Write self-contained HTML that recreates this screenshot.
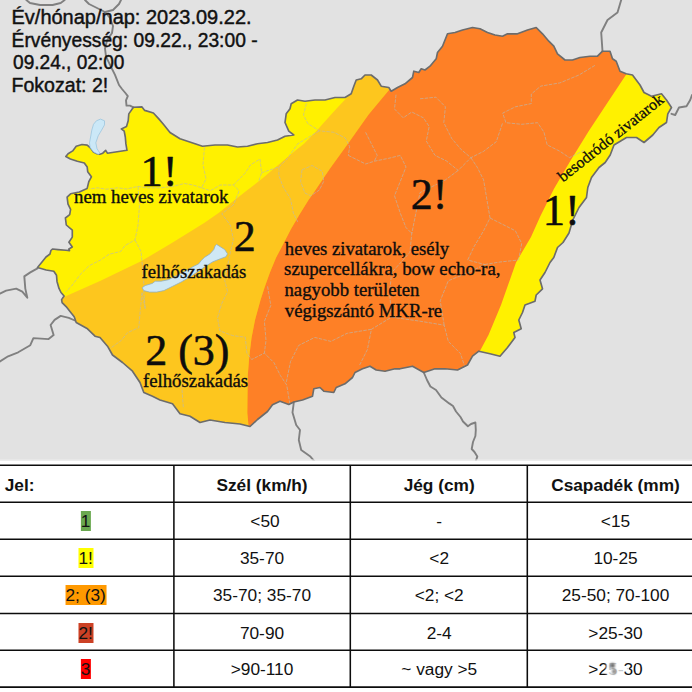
<!DOCTYPE html>
<html><head><meta charset="utf-8"><title>Riasztás</title>
<style>
html,body{margin:0;padding:0;background:#fff;}
body{width:692px;height:692px;overflow:hidden;position:relative;font-family:"Liberation Sans",sans-serif;color:#111;}
#map{position:absolute;left:0;top:0;display:block;}
.hl{position:absolute;height:1.3px;left:0;width:692px;background:#1a1a1a;}
.vl{position:absolute;width:1.4px;top:465px;height:223px;background:#1a1a1a;}
.c{position:absolute;font-size:17.3px;line-height:20px;height:20px;white-space:nowrap;transform:translateX(-50%);text-align:center;}
.b{font-weight:bold;}
.c span{display:inline-block;padding:0 0.3px;line-height:20px;}
</style></head><body>
<svg id="map" width="692" height="461" viewBox="0 0 692 461">
<defs><clipPath id="hu"><path d="M133.4 107.3 L142.0 106.9 L144.7 110.4 L153.4 113.0 L158.6 118.6 L163.8 124.7 L170.0 132.5 L180.0 138.8 L195.0 143.8 L202.5 146.2 L215.0 145.0 L227.5 145.0 L237.5 147.0 L247.5 146.2 L257.5 143.8 L267.5 142.5 L277.5 140.0 L285.0 136.2 L293.8 135.0 L288.8 131.2 L285.0 122.5 L286.2 113.8 L290.0 108.8 L291.2 103.8 L297.5 100.0 L305.0 101.2 L315.0 100.0 L325.0 100.0 L335.0 97.5 L345.0 97.5 L351.2 93.8 L353.8 86.2 L356.2 80.0 L361.2 78.8 L365.0 75.0 L371.2 75.0 L377.5 80.0 L381.2 86.2 L388.8 87.5 L391.2 91.2 L397.5 87.5 L405.0 83.8 L412.5 77.5 L413.8 71.2 L418.8 72.5 L421.2 68.8 L425.0 70.0 L430.0 66.2 L436.2 58.8 L437.5 52.5 L442.5 46.2 L445.0 40.0 L447.5 33.8 L455.0 32.5 L462.5 30.0 L472.5 27.5 L480.0 28.8 L487.5 32.5 L495.0 35.0 L502.5 36.2 L507.5 33.8 L517.5 33.8 L527.5 30.0 L536.2 27.5 L542.5 33.8 L548.8 41.2 L553.8 46.2 L557.5 53.8 L565.0 60.0 L572.5 60.0 L580.0 57.5 L590.0 56.2 L597.5 56.2 L602.5 51.2 L610.0 51.2 L612.5 58.8 L616.2 61.2 L620.0 71.2 L626.2 73.8 L632.5 75.0 L640.0 85.0 L644.0 92.5 L651.5 96.2 L661.5 93.8 L666.5 100.0 L671.5 107.5 L667.8 113.8 L666.5 122.5 L659.0 127.5 L652.8 135.0 L644.0 142.5 L636.5 137.5 L626.5 137.5 L614.0 145.0 L610.2 155.0 L605.2 162.5 L599.0 167.5 L591.5 177.5 L587.8 187.5 L586.5 197.5 L579.0 207.5 L572.8 220.0 L569.0 233.0 L563.0 242.5 L557.5 247.5 L553.8 257.5 L550.0 262.5 L545.0 272.5 L540.0 280.0 L542.5 288.8 L536.2 295.0 L535.0 301.2 L525.0 305.0 L522.5 312.5 L518.8 320.0 L521.2 328.8 L513.8 332.5 L515.0 337.5 L507.5 347.5 L500.0 356.2 L490.0 353.8 L478.8 351.2 L472.5 356.2 L467.5 365.0 L457.5 370.0 L445.0 368.8 L435.0 368.8 L423.8 372.5 L412.5 366.2 L400.0 368.8 L395.0 368.8 L385.0 371.2 L376.2 370.0 L370.0 366.2 L362.5 368.8 L355.0 372.5 L352.5 377.5 L345.0 383.8 L336.2 387.5 L333.8 392.5 L323.8 391.2 L320.0 387.5 L313.8 388.8 L312.5 396.2 L302.5 400.0 L293.8 402.0 L288.8 404.5 L280.0 401.2 L272.5 404.8 L267.5 411.5 L257.5 419.5 L250.0 426.5 L240.0 424.0 L225.0 422.5 L210.0 420.0 L200.0 422.5 L190.0 416.2 L180.0 413.8 L172.5 403.8 L160.0 400.0 L152.5 396.2 L143.8 392.5 L140.0 382.5 L132.5 371.2 L122.5 362.5 L112.5 355.0 L107.5 346.2 L100.0 337.5 L95.0 336.2 L87.5 328.8 L76.2 322.5 L74.2 316.8 L70.2 311.7 L66.1 306.6 L62.1 302.6 L61.6 299.6 L64.1 296.0 L61.0 292.5 L59.0 288.4 L57.0 281.4 L56.5 275.3 L53.8 271.2 L46.2 270.0 L37.5 267.5 L42.0 262.0 L46.0 257.0 L50.0 254.0 L50.9 250.5 L52.5 249.0 L58.0 249.6 L66.0 250.3 L69.5 250.6 L68.9 249.0 L72.3 247.0 L68.9 242.3 L72.3 237.1 L72.3 230.2 L66.3 225.0 L65.4 218.0 L69.7 214.6 L70.6 209.4 L68.0 204.2 L67.1 197.2 L70.6 193.8 L79.3 192.0 L87.1 188.6 L88.8 181.6 L91.4 176.8 L87.7 171.7 L87.2 167.1 L84.3 163.0 L77.3 161.3 L70.4 159.0 L65.8 156.6 L68.1 153.8 L72.7 150.9 L76.2 146.2 L82.0 144.5 L87.2 145.1 L90.6 148.0 L93.5 152.0 L97.0 153.8 L99.9 154.3 L102.8 153.2 L105.7 150.3 L107.4 153.2 L115.5 152.0 L127.0 150.3 L125.9 143.9 L125.3 137.0 L124.2 131.2 L121.3 128.9 L126.5 126.6 L128.2 120.8 L128.8 113.9 Z"/></clipPath></defs>
<rect width="692" height="461" fill="#e2e2e2"/>
<g clip-path="url(#hu)">
<rect width="692" height="462" fill="#fff100"/>
<path d="M64.0 297.0 L100.0 280.9 L141.0 261.3 L171.0 243.6 L190.0 231.8 L204.5 222.8 L218.9 212.7 L233.4 200.9 L247.8 189.8 L262.3 178.5 L276.7 166.2 L290.0 155.1 L304.0 143.8 L316.0 131.5 L328.0 118.0 L338.0 107.0 L349.0 95.5 L360.0 60.0 L395.0 60.0 L389.0 90.0 L368.6 114.6 L349.5 141.6 L330.0 168.6 L313.5 193.0 L308.5 200.0 L299.5 214.5 L291.0 228.9 L283.5 243.4 L276.0 257.8 L270.0 272.3 L264.8 286.7 L260.5 300.0 L255.0 320.0 L251.5 338.0 L249.3 356.0 L247.8 375.0 L247.5 394.0 L247.3 413.0 L248.5 426.0 L248.0 470.0 L30.0 470.0 L30.0 320.0 Z" fill="#fdc61e"/>
<path d="M395.0 60.0 L395.0 0.0 L640.0 0.0 L640.0 60.0 L626.2 74.5 L607.3 103.0 L588.8 131.0 L570.3 161.0 L554.0 188.7 L540.2 216.4 L531.0 237.0 L516.0 262.5 L501.0 305.0 L488.5 335.0 L479.8 351.2 L470.0 470.0 L248.0 470.0 L248.5 426.0 L247.3 413.0 L247.5 394.0 L247.8 375.0 L249.3 356.0 L251.5 338.0 L255.0 320.0 L260.5 300.0 L264.8 286.7 L270.0 272.3 L276.0 257.8 L283.5 243.4 L291.0 228.9 L299.5 214.5 L308.5 200.0 L313.5 193.0 L330.0 168.6 L349.5 141.6 L368.6 114.6 L389.0 90.0 Z" fill="#fe8026"/>
<g fill="none" stroke="#b9b9b4" stroke-opacity="0.7" stroke-width="0.9" stroke-dasharray="3.5 1.2" stroke-linejoin="round"><path d="M204.5 147.3 L203.0 164.7 L206.0 179.0 L201.6 187.8 L193.0 185.0 L184.3 183.5 L172.7 186.4 L161.0 187.8 L146.7 187.8 L138.0 186.4 L126.5 189.0 L117.8 187.8 L106.2 189.2 L97.6 187.8 L89.0 189.0"/><path d="M138.0 186.4 L139.5 205.0 L138.0 225.4 L135.0 239.8 L125.0 245.6 L120.7 251.4 L109.0 254.3 L100.5 260.0 L89.0 265.8 L80.2 274.5 L71.6 286.0 L65.8 291.8"/><path d="M201.6 187.8 L210.3 190.7 L220.4 185.0 L233.4 185.0 L239.2 190.7 L233.4 205.0 L221.8 213.8 L230.5 225.4 L233.4 239.8 L230.5 251.4"/><path d="M135.0 240.0 L141.0 251.4 L142.4 265.8 L143.8 283.0 L143.8 291.8 L145.3 309.0 L142.0 292.7"/><path d="M230.5 251.4 L227.6 265.8 L224.7 280.3 L227.6 291.8 L221.8 303.4 L217.5 317.8 L219.9 330.9 L232.6 335.6 L245.3 337.2 L246.9 353.1 L251.7 359.5 L264.4 353.1 L274.0 362.7 L280.3 375.4 L286.7 385.0 L289.9 404.0"/><path d="M233.4 185.0 L245.0 173.3 L250.7 164.7 L260.0 159.0 L261.6 172.7 L258.7 181.4"/><path d="M306.4 103.4 L303.5 115.0 L307.8 123.6 L319.4 130.8 L333.8 132.3 L345.4 138.0 L349.7 146.7 L348.3 155.4"/><path d="M302.0 169.8 L312.1 165.5 L322.3 171.3 L323.7 181.4 L319.4 190.0 L310.7 195.8 L304.9 193.0 L300.6 181.4 L302.0 169.8"/><path d="M319.4 130.8 L297.7 143.8 L287.6 158.3 L278.9 167.0 L270.2 169.8 L261.6 172.7"/><path d="M278.9 167.0 L278.9 175.6 L283.2 187.2 L290.5 198.7 L293.4 213.2 L297.7 221.8"/><path d="M396.0 94.7 L394.5 109.0 L403.2 117.8 L411.8 112.0 L423.4 117.8 L429.2 126.5 L426.3 141.0 L435.0 155.4 L446.5 161.0 L458.2 170.4 L470.9 157.7"/><path d="M348.3 155.4 L365.6 164.0 L374.3 161.2 L388.7 158.3 L400.3 155.4 L406.0 167.0 L400.3 181.4 L394.5 195.8 L400.3 213.2 L406.0 227.6 L411.8 233.4"/><path d="M365.6 132.3 L377.2 155.4 L374.3 161.2"/><path d="M594.9 65.4 L579.0 75.0 L559.9 82.9 L540.8 86.1 L531.3 94.0 L531.3 103.6 L515.4 106.8 L502.7 113.1 L505.9 122.7 L521.7 124.3 L537.6 122.7 L544.0 132.2 L547.2 144.9 L559.9 151.3 L569.4 157.7 L579.0 152.9 L585.3 149.7"/><path d="M420.0 98.8 L435.9 97.2 L445.4 106.8 L443.8 122.7 L451.8 138.6 L461.3 149.7 L470.9 157.7 L483.6 151.3 L496.3 141.7 L502.7 122.7"/><path d="M470.9 157.7 L477.2 167.2 L483.6 179.9 L486.8 199.0 L490.0 218.0 L483.6 230.8 L474.0 246.7 L467.7 260.0"/><path d="M490.0 218.0 L502.7 224.4 L515.4 230.8 L521.7 243.5 L518.6 260.0"/><path d="M458.2 170.4 L445.4 179.9 L432.7 186.3 L420.0 192.6 L411.8 233.4"/><path d="M142.0 292.7 L140.4 308.6 L138.8 327.7 L127.7 332.5 L121.3 340.4 L110.2 348.4"/><path d="M181.7 385.0 L183.3 407.2"/><path d="M267.6 286.4 L270.8 305.4 L264.4 321.3 L266.0 340.4 L264.4 353.1"/><path d="M411.9 232.1 L409.9 252.4 L391.6 272.6 L389.6 292.8 L391.6 317.1 L371.4 329.3 L367.4 349.5 L359.3 365.7"/><path d="M391.6 317.1 L420.0 321.2 L444.2 325.2 L448.3 341.4 L460.4 353.5 L464.5 365.7"/><path d="M444.2 325.2 L440.2 300.9 L448.3 280.7 L468.5 272.6 L484.7 264.5 L467.7 260.0"/><path d="M371.4 329.3 L347.1 333.3 L330.9 341.4 L314.7 337.4 L298.6 345.5 L290.5 361.6 L286.4 381.9"/><path d="M484.7 264.5 L500.0 262.0 L518.6 260.0"/></g>
</g>
<g fill="none" stroke="#808080" stroke-width="1.9" stroke-linejoin="round" stroke-linecap="round">
<path d="M0.0 293.6 L6.1 290.6 L16.2 288.6 L22.3 291.6 L27.3 297.7 L25.3 288.6 L24.3 276.4 L30.3 272.4 L37.5 268.3"/><path d="M0.0 361.4 L8.1 356.3 L18.2 352.3 L30.3 345.2 L33.4 338.1 L48.6 339.1 L53.6 335.1 L50.6 325.0 L54.6 319.9 L60.7 315.9 L68.8 317.9 L74.9 320.5"/><path d="M293.8 402.5 L292.5 412.5 L296.2 425.0 L300.0 430.0 L298.8 440.0 L301.2 450.0 L310.0 456.2 L315.0 462.0"/><path d="M423.8 372.5 L427.0 380.0 L430.4 386.5 L436.0 390.0 L441.4 397.5 L449.2 403.4 L453.0 406.0 L456.0 411.5 L460.5 417.0 L463.0 421.5 L467.9 426.3 L471.0 424.0 L475.4 422.5 L475.8 430.0 L475.4 436.0 L473.0 442.0 L471.7 449.0 L474.5 452.0 L477.3 456.6 L475.4 462.0"/><path d="M671.5 113.8 L675.2 115.0 L679.0 107.5 L686.5 106.2 L690.2 100.0 L692.0 95.0"/><path d="M133.4 107.3 L130.0 105.6 L126.5 105.6 L126.0 100.4 L127.8 96.1 L125.4 93.0 L122.0 89.0 L119.0 85.0 L115.0 74.9 L111.0 66.8 L106.0 56.6 L105.0 48.5 L107.0 40.5 L112.0 33.0 L113.0 26.0 L110.0 18.0 L105.0 12.0 L97.0 8.0 L89.0 4.0 L85.0 0.0"/><path d="M105.0 12.0 L113.0 10.0 L119.0 4.0 L121.0 0.0"/><path d="M26.3 0.0 L30.0 3.0 L40.0 5.0 L52.6 5.0 L60.7 3.0 L64.7 0.0"/><path d="M602.5 51.2 L601.2 32.5 L607.5 20.0 L617.5 12.5 L621.2 0.0"/>
<!--EXTRA_BORDERS-->
</g>
<path d="M133.4 107.3 L142.0 106.9 L144.7 110.4 L153.4 113.0 L158.6 118.6 L163.8 124.7 L170.0 132.5 L180.0 138.8 L195.0 143.8 L202.5 146.2 L215.0 145.0 L227.5 145.0 L237.5 147.0 L247.5 146.2 L257.5 143.8 L267.5 142.5 L277.5 140.0 L285.0 136.2 L293.8 135.0 L288.8 131.2 L285.0 122.5 L286.2 113.8 L290.0 108.8 L291.2 103.8 L297.5 100.0 L305.0 101.2 L315.0 100.0 L325.0 100.0 L335.0 97.5 L345.0 97.5 L351.2 93.8 L353.8 86.2 L356.2 80.0 L361.2 78.8 L365.0 75.0 L371.2 75.0 L377.5 80.0 L381.2 86.2 L388.8 87.5 L391.2 91.2 L397.5 87.5 L405.0 83.8 L412.5 77.5 L413.8 71.2 L418.8 72.5 L421.2 68.8 L425.0 70.0 L430.0 66.2 L436.2 58.8 L437.5 52.5 L442.5 46.2 L445.0 40.0 L447.5 33.8 L455.0 32.5 L462.5 30.0 L472.5 27.5 L480.0 28.8 L487.5 32.5 L495.0 35.0 L502.5 36.2 L507.5 33.8 L517.5 33.8 L527.5 30.0 L536.2 27.5 L542.5 33.8 L548.8 41.2 L553.8 46.2 L557.5 53.8 L565.0 60.0 L572.5 60.0 L580.0 57.5 L590.0 56.2 L597.5 56.2 L602.5 51.2 L610.0 51.2 L612.5 58.8 L616.2 61.2 L620.0 71.2 L626.2 73.8 L632.5 75.0 L640.0 85.0 L644.0 92.5 L651.5 96.2 L661.5 93.8 L666.5 100.0 L671.5 107.5 L667.8 113.8 L666.5 122.5 L659.0 127.5 L652.8 135.0 L644.0 142.5 L636.5 137.5 L626.5 137.5 L614.0 145.0 L610.2 155.0 L605.2 162.5 L599.0 167.5 L591.5 177.5 L587.8 187.5 L586.5 197.5 L579.0 207.5 L572.8 220.0 L569.0 233.0 L563.0 242.5 L557.5 247.5 L553.8 257.5 L550.0 262.5 L545.0 272.5 L540.0 280.0 L542.5 288.8 L536.2 295.0 L535.0 301.2 L525.0 305.0 L522.5 312.5 L518.8 320.0 L521.2 328.8 L513.8 332.5 L515.0 337.5 L507.5 347.5 L500.0 356.2 L490.0 353.8 L478.8 351.2 L472.5 356.2 L467.5 365.0 L457.5 370.0 L445.0 368.8 L435.0 368.8 L423.8 372.5 L412.5 366.2 L400.0 368.8 L395.0 368.8 L385.0 371.2 L376.2 370.0 L370.0 366.2 L362.5 368.8 L355.0 372.5 L352.5 377.5 L345.0 383.8 L336.2 387.5 L333.8 392.5 L323.8 391.2 L320.0 387.5 L313.8 388.8 L312.5 396.2 L302.5 400.0 L293.8 402.0 L288.8 404.5 L280.0 401.2 L272.5 404.8 L267.5 411.5 L257.5 419.5 L250.0 426.5 L240.0 424.0 L225.0 422.5 L210.0 420.0 L200.0 422.5 L190.0 416.2 L180.0 413.8 L172.5 403.8 L160.0 400.0 L152.5 396.2 L143.8 392.5 L140.0 382.5 L132.5 371.2 L122.5 362.5 L112.5 355.0 L107.5 346.2 L100.0 337.5 L95.0 336.2 L87.5 328.8 L76.2 322.5 L74.2 316.8 L70.2 311.7 L66.1 306.6 L62.1 302.6 L61.6 299.6 L64.1 296.0 L61.0 292.5 L59.0 288.4 L57.0 281.4 L56.5 275.3 L53.8 271.2 L46.2 270.0 L37.5 267.5 L42.0 262.0 L46.0 257.0 L50.0 254.0 L50.9 250.5 L52.5 249.0 L58.0 249.6 L66.0 250.3 L69.5 250.6 L68.9 249.0 L72.3 247.0 L68.9 242.3 L72.3 237.1 L72.3 230.2 L66.3 225.0 L65.4 218.0 L69.7 214.6 L70.6 209.4 L68.0 204.2 L67.1 197.2 L70.6 193.8 L79.3 192.0 L87.1 188.6 L88.8 181.6 L91.4 176.8 L87.7 171.7 L87.2 167.1 L84.3 163.0 L77.3 161.3 L70.4 159.0 L65.8 156.6 L68.1 153.8 L72.7 150.9 L76.2 146.2 L82.0 144.5 L87.2 145.1 L90.6 148.0 L93.5 152.0 L97.0 153.8 L99.9 154.3 L102.8 153.2 L105.7 150.3 L107.4 153.2 L115.5 152.0 L127.0 150.3 L125.9 143.9 L125.3 137.0 L124.2 131.2 L121.3 128.9 L126.5 126.6 L128.2 120.8 L128.8 113.9 Z" fill="none" stroke="#6c6c6c" stroke-width="1.65" stroke-linejoin="round"/>
<path d="M216.6 244.4 L224.6 249.5 L227.5 253.8 L226.0 256.7 L220.3 258.8 L213.0 261.7 L205.8 266.1 L198.6 271.1 L189.9 276.9 L181.2 282.0 L172.6 286.3 L163.9 290.6 L156.7 292.1 L149.5 292.1 L143.7 290.6 L142.2 287.7 L145.1 285.6 L152.3 283.4 L155.2 281.2 L161.0 281.2 L168.2 279.8 L176.9 275.5 L185.6 271.1 L192.8 266.8 L198.6 263.9 L201.5 260.3 L204.4 257.4 L210.1 253.8 L213.8 249.5 L215.2 245.8 Z" fill="#cfe8f5" stroke="#8fb0c4" stroke-width="0.8"/>
<path d="M100.5 119.1 L104.5 120.8 L104.5 124.9 L101.6 130.1 L98.2 135.8 L95.8 142.8 L97.0 148.6 L99.9 153.2 L98.2 154.3 L93.5 152.0 L90.1 147.4 L89.5 142.8 L90.6 137.0 L91.8 130.1 L93.5 124.3 L96.4 120.8 Z" fill="#cbe8f7" stroke="#94c2dc" stroke-width="0.7"/>
<g font-family="Liberation Serif, serif" fill="#0d0d0d" font-size="100" stroke="#0d0d0d" stroke-width="1.2" stroke-linejoin="round"><text transform="translate(140.43,186.4) scale(0.445,0.445)">1!</text><text transform="translate(233.67,250.7) scale(0.44,0.44)">2</text><text transform="translate(145.21,364.5) scale(0.44,0.44)">2 (3)</text><text transform="translate(410.81,208.8) scale(0.44,0.44)">2!</text><text transform="translate(542.63,225.2) scale(0.445,0.445)">1!</text></g><g font-family="Liberation Serif, serif" fill="#0d0d0d" font-size="100" stroke="#0d0d0d" stroke-width="1.9" stroke-linejoin="round"><text transform="translate(74.02,203.0) scale(0.188,0.1884)">nem heves zivatarok</text><text transform="translate(141.54,277.6) scale(0.1869,0.1942)">felhőszakadás</text><text transform="translate(142.94,386.6) scale(0.1878,0.1928)">felhőszakadás</text><text transform="translate(284.8,254.7) scale(0.1869,0.1884)">heves zivatarok, esély</text><text transform="translate(284.05,275.1) scale(0.1884,0.1884)">szupercellákra, bow echo-ra,</text><text transform="translate(284.42,296.3) scale(0.1878,0.1884)">nagyobb területen</text><text transform="translate(284.8,317.0) scale(0.1871,0.1884)">végigszántó MKR-re</text><text font-size="16" stroke-width="0.3" textLength="130" lengthAdjust="spacingAndGlyphs" transform="translate(563,182.5) rotate(-38.5)">besodródó zivatarok</text></g><g font-family="Liberation Sans, sans-serif" fill="#111" font-size="100" stroke="#111" stroke-width="2.2"><text transform="translate(11.5,23.7) scale(0.2,0.1971)">Év/hónap/nap: 2023.09.22.</text><text transform="translate(11.56,46.5) scale(0.1926,0.1971)">Érvényesség: 09.22., 23:00 -</text><text transform="translate(13.03,69.4) scale(0.1909,0.1943)">09.24., 02:00</text><text transform="translate(11.53,92.0) scale(0.1956,0.1971)">Fokozat: 2!</text></g>
<rect x="0" y="459.4" width="692" height="1.6" fill="#efefef" fill-opacity="0.8"/>
</svg>
<svg style="position:absolute;left:0;top:455px" width="692" height="237" viewBox="0 455 692 237"><g stroke="#0c0c0c" stroke-width="1.55"><line x1="0" x2="692" y1="465.30" y2="465.30"/><line x1="0" x2="692" y1="502.20" y2="502.20"/><line x1="0" x2="692" y1="539.30" y2="539.30"/><line x1="0" x2="692" y1="576.20" y2="576.20"/><line x1="0" x2="692" y1="613.40" y2="613.40"/><line x1="0" x2="692" y1="650.30" y2="650.30"/><line x1="0" x2="692" y1="687.10" y2="687.10"/><line x1="173.90" x2="173.90" y1="465.30" y2="687.10"/><line x1="350.30" x2="350.30" y1="465.30" y2="687.10"/><line x1="527.30" x2="527.30" y1="465.30" y2="687.10"/></g></svg>
<div class="c b" style="left:4.7px;top:475.4px;transform:none">Jel:</div>
<div class="c b" style="left:262.0px;top:475.4px">Szél (km/h)</div>
<div class="c b" style="left:439.2px;top:475.4px">Jég (cm)</div>
<div class="c b" style="left:615.5px;top:475.4px">Csapadék (mm)</div>
<div class="c " style="left:85.6px;top:511.3px"><span style="background:#6aa84f">1</span></div>
<div class="c " style="left:265.0px;top:511.3px">&lt;50</div>
<div class="c " style="left:439.2px;top:511.3px">-</div>
<div class="c " style="left:615.5px;top:511.3px">&lt;15</div>
<div class="c " style="left:85.6px;top:548.4px"><span style="background:#ffff00">1!</span></div>
<div class="c " style="left:262.0px;top:548.4px">35-70</div>
<div class="c " style="left:439.2px;top:548.4px">&lt;2</div>
<div class="c " style="left:615.5px;top:548.4px">10-25</div>
<div class="c " style="left:85.6px;top:585.3px"><span style="background:#ff9900">2; (3)</span></div>
<div class="c " style="left:262.0px;top:585.3px">35-70; 35-70</div>
<div class="c " style="left:439.2px;top:585.3px">&lt;2; &lt;2</div>
<div class="c " style="left:615.5px;top:585.3px">25-50; 70-100</div>
<div class="c " style="left:85.6px;top:622.5px"><span style="background:#cc4125">2!</span></div>
<div class="c " style="left:262.0px;top:622.5px">70-90</div>
<div class="c " style="left:439.2px;top:622.5px">2-4</div>
<div class="c " style="left:615.5px;top:622.5px">&gt;25-30</div>
<div class="c " style="left:85.6px;top:659.0px"><span style="background:#ff0000">3</span></div>
<div class="c " style="left:262.0px;top:659.0px">&gt;90-110</div>
<div class="c " style="left:439.2px;top:659.0px">~ vagy &gt;5</div>
<div id="smudge" class="c " style="left:615.5px;top:659.0px">&gt;25-30</div>
<div style="position:absolute;left:605.5px;top:660px;width:18px;height:17px;background:rgba(255,255,255,.78);filter:blur(1.1px);border-radius:5px"></div>
<div style="position:absolute;left:610px;top:663px;width:5px;height:5px;background:#3a3a3a;filter:blur(.9px);border-radius:3px;opacity:.75"></div>
<div style="position:absolute;left:612px;top:669px;width:4px;height:5px;background:#3a3a3a;filter:blur(.9px);border-radius:3px;opacity:.6"></div>
<div style="position:absolute;left:626px;top:666px;width:3px;height:4px;background:#fff;filter:blur(.7px);opacity:.8"></div>
<div style="position:absolute;left:635.5px;top:664px;width:2px;height:9px;background:#fff;filter:blur(.7px);opacity:.6"></div>
</body></html>
